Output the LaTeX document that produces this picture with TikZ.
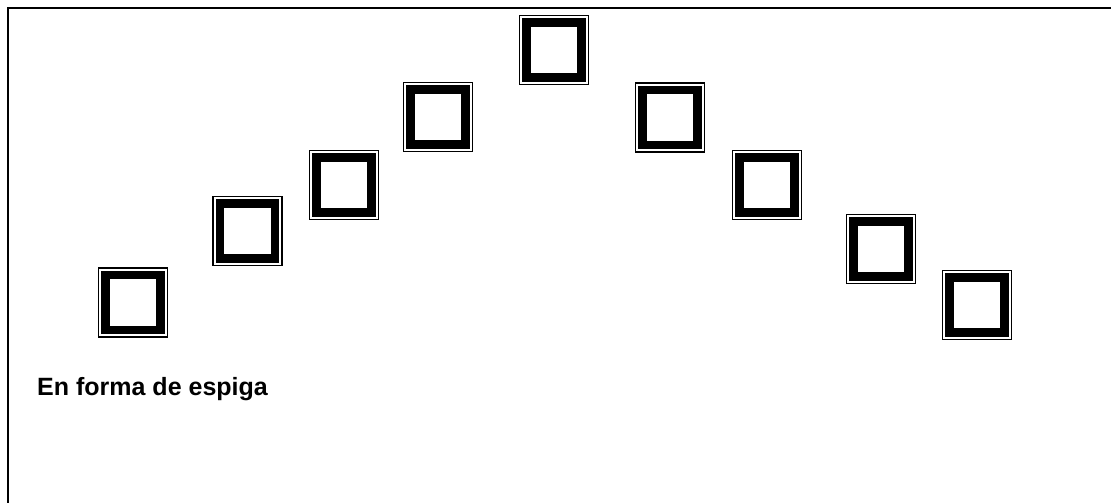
\documentclass[tikz,border=0pt]{standalone}
\usepackage{fontspec}
\setmainfont{Liberation Sans}
\begin{document}
\begin{tikzpicture}[x=1pt,y=-1pt,
  tile/.style={draw, rectangle, line width=8.5pt, minimum size=55pt, inner sep=0pt, outer sep=0pt},
  rim/.style={draw, line width=1.7pt},
  frameline/.style={draw, line width=2pt},
  caption/.style={anchor=base west, inner sep=0pt, font=\fontsize{25}{30}\selectfont\bfseries}]
\useasboundingbox (0,0) rectangle (1111,503);
\coordinate (fb) at (8,503);
\coordinate (fc) at (8,8);
\coordinate (fr) at (1111,8);
\draw[frameline] (fb) -- (fc) -- (fr);
\foreach \n/\x/\y in {1/133/302.5, 2/247.5/231, 3/344/185, 4/438/117, 5/554/50, 6/670/117.5, 7/767/185, 8/881/249, 9/977/305} {
  \node[tile] (b\n) at (\x,\y) {};
  \draw[rim] ([shift={(-7pt,-7pt)}]b\n.south west) rectangle ([shift={(7pt,7pt)}]b\n.north east);
}
\node[caption] (cap) at (37,395) {En forma de espiga};
\end{tikzpicture}
\end{document}
